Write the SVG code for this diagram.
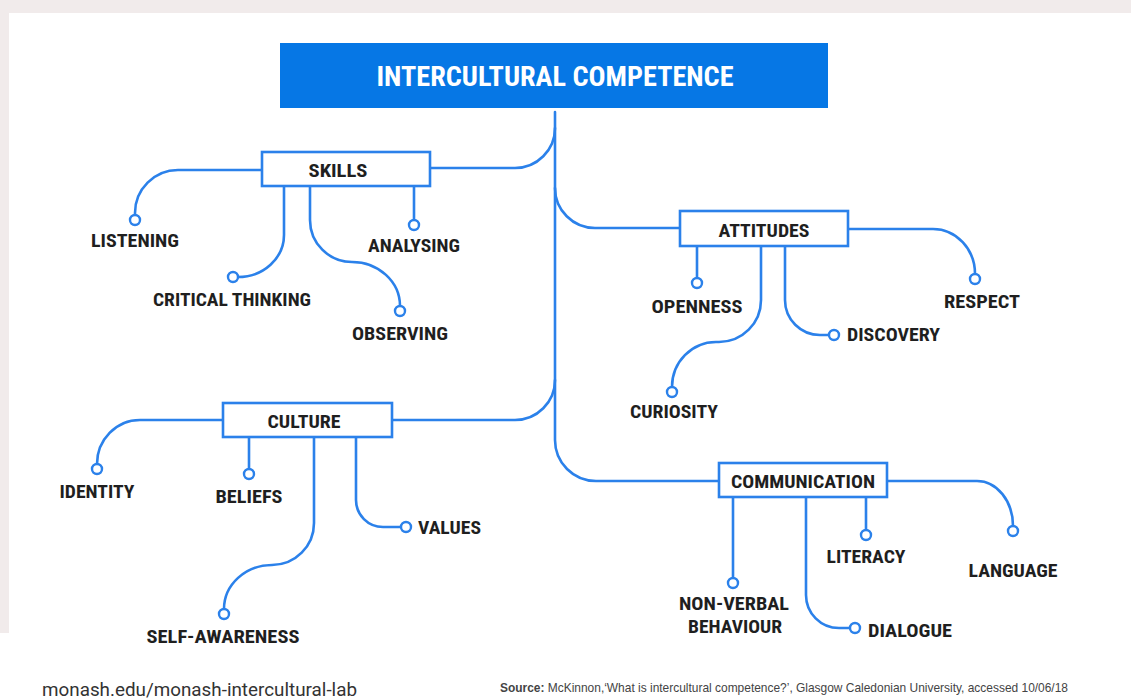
<svg xmlns="http://www.w3.org/2000/svg" width="1131" height="699" viewBox="0 0 1131 699">
<style>
.bg{fill:#f1ebeb}
.ln{fill:none;stroke:#2b81ea;stroke-width:2.6;stroke-linecap:round}
.box{fill:#ffffff;stroke:#2b81ea;stroke-width:2.6}
.dot{fill:#ffffff;stroke:#2b81ea;stroke-width:2.4}
.lbl{font-family:"Liberation Sans Narrow","Roboto Condensed","Liberation Sans",sans-serif;font-weight:bold;font-size:18px;fill:#1f1f1f;text-anchor:middle}
.lbls{font-family:"Liberation Sans Narrow","Roboto Condensed","Liberation Sans",sans-serif;font-weight:bold;font-size:18px;fill:#1f1f1f}
.title{font-family:"Liberation Sans Narrow","Roboto Condensed","Liberation Sans",sans-serif;font-weight:bold;font-size:27px;fill:#ffffff;text-anchor:middle}
.foot{font-family:Roboto,"Liberation Sans",sans-serif;font-size:18px;fill:#333333}
.src{font-family:"Liberation Sans Narrow","Liberation Sans",sans-serif;font-size:13px;fill:#444444}
</style>
<rect x="0" y="0" width="1131" height="699" fill="#ffffff"/>
<rect class="bg" x="0" y="0" width="1131" height="13"/>
<rect class="bg" x="0" y="0" width="9" height="633"/>

<g id="connectors">
<path class="ln" d="M555,112 V440 A41,41 0 0 0 596,481 H719"/>
<path class="ln" d="M555,128 A40,40 0 0 1 515,168 H430"/>
<path class="ln" d="M555,188 A40,40 0 0 0 595,228 H680"/>
<path class="ln" d="M555,380 A40,40 0 0 1 515,420 H392"/>
<!-- skills -->
<path class="ln" d="M262,170 H178 A43,43 0 0 0 135,213 V215"/>
<path class="ln" d="M284,186 V235 A46,42 0 0 1 238,277"/>
<path class="ln" d="M310,186 V220 A42,42 0 0 0 352,262 A48,44 0 0 1 400,306"/>
<path class="ln" d="M414,186 V220"/>
<!-- attitudes -->
<path class="ln" d="M697,246 V278"/>
<path class="ln" d="M761,246 V300 A42,42 0 0 1 719,342 H716 A44,45 0 0 0 672,387"/>
<path class="ln" d="M785,246 V300 A35,35 0 0 0 820,335 H829"/>
<path class="ln" d="M848,229 H933 A42,45 0 0 1 975,274"/>
<!-- culture -->
<path class="ln" d="M223,420 H140 A43,44 0 0 0 97,464"/>
<path class="ln" d="M249,437 V469"/>
<path class="ln" d="M314,437 V523 A42,42 0 0 1 272,565 A48,44 0 0 0 224,609"/>
<path class="ln" d="M356,437 V500 A27,27 0 0 0 383,527 H401"/>
<!-- communication -->
<path class="ln" d="M733,497 V578"/>
<path class="ln" d="M806,497 V595 A33,33 0 0 0 839,628 H850"/>
<path class="ln" d="M866,497 V530"/>
<path class="ln" d="M887,481 H977 A36,45 0 0 1 1013,526"/>
</g>

<g id="intercultural-competence">
<rect x="280" y="43" width="548" height="65" fill="#0677e5"/>
<text class="title" x="555" y="86" textLength="357" lengthAdjust="spacingAndGlyphs">INTERCULTURAL COMPETENCE</text>
</g>

<g id="skills">
<rect class="box" x="262" y="152" width="168" height="34"/>
<text class="lbl" x="338" y="177" textLength="59" lengthAdjust="spacingAndGlyphs">SKILLS</text>
</g>
<g id="listening">
<circle class="dot" cx="135" cy="220" r="5"/>
<text class="lbl" x="135" y="247" textLength="88" lengthAdjust="spacingAndGlyphs">LISTENING</text>
</g>
<g id="critical-thinking">
<circle class="dot" cx="233" cy="277" r="5"/>
<text class="lbl" x="232" y="306" textLength="158" lengthAdjust="spacingAndGlyphs">CRITICAL THINKING</text>
</g>
<g id="observing">
<circle class="dot" cx="400" cy="311" r="5"/>
<text class="lbl" x="400" y="340" textLength="96" lengthAdjust="spacingAndGlyphs">OBSERVING</text>
</g>
<g id="analysing">
<circle class="dot" cx="414" cy="225" r="5"/>
<text class="lbl" x="414" y="252" textLength="92" lengthAdjust="spacingAndGlyphs">ANALYSING</text>
</g>

<g id="attitudes">
<rect class="box" x="680" y="211" width="168" height="35"/>
<text class="lbl" x="764" y="237" textLength="91" lengthAdjust="spacingAndGlyphs">ATTITUDES</text>
</g>
<g id="openness">
<circle class="dot" cx="697" cy="283" r="5"/>
<text class="lbl" x="697" y="313" textLength="91" lengthAdjust="spacingAndGlyphs">OPENNESS</text>
</g>
<g id="curiosity">
<circle class="dot" cx="672" cy="392" r="5"/>
<text class="lbl" x="674" y="418" textLength="88" lengthAdjust="spacingAndGlyphs">CURIOSITY</text>
</g>
<g id="discovery">
<circle class="dot" cx="834" cy="335" r="5"/>
<text class="lbls" x="847" y="341" textLength="93" lengthAdjust="spacingAndGlyphs">DISCOVERY</text>
</g>
<g id="respect">
<circle class="dot" cx="975" cy="279" r="5"/>
<text class="lbl" x="982" y="308" textLength="76" lengthAdjust="spacingAndGlyphs">RESPECT</text>
</g>

<g id="culture">
<rect class="box" x="223" y="403" width="169" height="34"/>
<text class="lbl" x="304" y="428" textLength="73" lengthAdjust="spacingAndGlyphs">CULTURE</text>
</g>
<g id="identity">
<circle class="dot" cx="97" cy="469" r="5"/>
<text class="lbl" x="97" y="498" textLength="75" lengthAdjust="spacingAndGlyphs">IDENTITY</text>
</g>
<g id="beliefs">
<circle class="dot" cx="249" cy="474" r="5"/>
<text class="lbl" x="249" y="503" textLength="67" lengthAdjust="spacingAndGlyphs">BELIEFS</text>
</g>
<g id="self-awareness">
<circle class="dot" cx="224" cy="614" r="5"/>
<text class="lbl" x="223" y="643" textLength="153" lengthAdjust="spacingAndGlyphs">SELF-AWARENESS</text>
</g>
<g id="values">
<circle class="dot" cx="406" cy="527" r="5"/>
<text class="lbls" x="418" y="534" textLength="63" lengthAdjust="spacingAndGlyphs">VALUES</text>
</g>

<g id="communication">
<rect class="box" x="719" y="463" width="168" height="34"/>
<text class="lbl" x="803" y="488" textLength="144" lengthAdjust="spacingAndGlyphs">COMMUNICATION</text>
</g>
<g id="non-verbal-behaviour">
<circle class="dot" cx="733" cy="583" r="5"/>
<text class="lbl" x="734" y="610" textLength="110" lengthAdjust="spacingAndGlyphs">NON-VERBAL</text>
<text class="lbl" x="735" y="633" textLength="94" lengthAdjust="spacingAndGlyphs">BEHAVIOUR</text>
</g>
<g id="dialogue">
<circle class="dot" cx="855" cy="628" r="5"/>
<text class="lbls" x="868" y="637" textLength="84" lengthAdjust="spacingAndGlyphs">DIALOGUE</text>
</g>
<g id="literacy">
<circle class="dot" cx="866" cy="535" r="5"/>
<text class="lbl" x="866" y="563" textLength="79" lengthAdjust="spacingAndGlyphs">LITERACY</text>
</g>
<g id="language">
<circle class="dot" cx="1013" cy="531" r="5"/>
<text class="lbl" x="1013" y="577" textLength="89" lengthAdjust="spacingAndGlyphs">LANGUAGE</text>
</g>

<g id="footer">
<text class="foot" x="42" y="696" textLength="315" lengthAdjust="spacingAndGlyphs">monash.edu/monash-intercultural-lab</text>
<text class="src" x="500" y="692" textLength="568" lengthAdjust="spacingAndGlyphs"><tspan font-weight="bold">Source:</tspan> McKinnon,‘What is intercultural competence?’, Glasgow Caledonian University, accessed 10/06/18</text>
</g>
</svg>
